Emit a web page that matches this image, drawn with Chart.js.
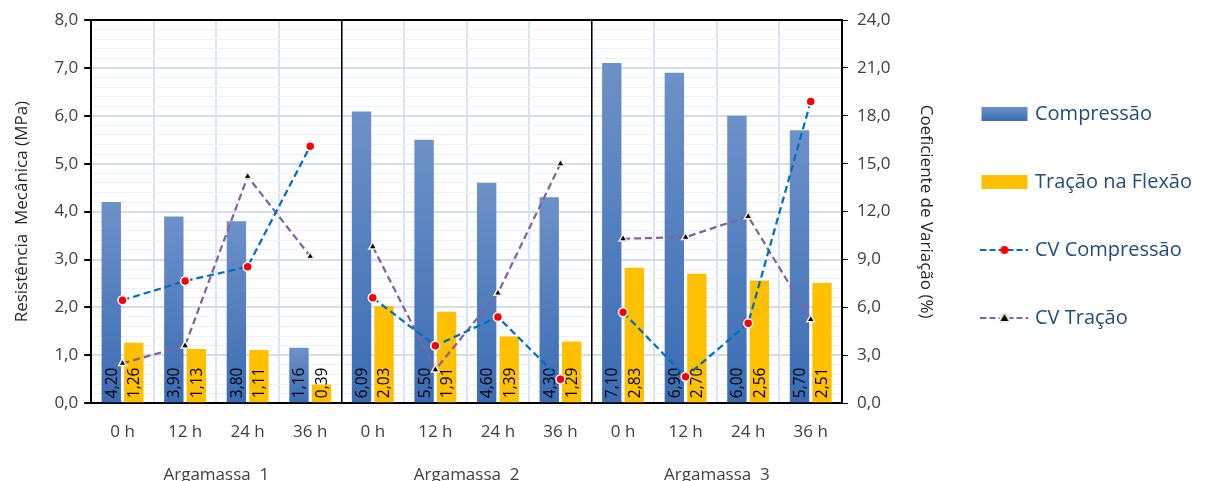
<!DOCTYPE html>
<html>
<head>
<meta charset="utf-8">
<script src="https://cdn.jsdelivr.net/npm/chart.js@4.4.1/dist/chart.umd.min.js"></script>
<style>
  html, body { margin: 0; padding: 0; overflow: hidden; background: #fff; }
  #wrap { width: 1209px; height: 492px; }
</style>
</head>
<body>
<div id="wrap"><canvas id="grafico"></canvas></div>
<script>
const horas = ['0 h', '12 h', '24 h', '36 h', '0 h', '12 h', '24 h', '36 h', '0 h', '12 h', '24 h', '36 h'];
const argamassas = ['Argamassa  1', 'Argamassa  2', 'Argamassa  3'];
const compressao = [4.20, 3.90, 3.80, 1.16, 6.09, 5.50, 4.60, 4.30, 7.10, 6.90, 6.00, 5.70];
const tracao = [1.26, 1.13, 1.11, 0.39, 2.03, 1.91, 1.39, 1.29, 2.83, 2.70, 2.56, 2.51];
const cvCompressao = [6.45, 7.65, 8.55, 16.1, 6.6, 3.6, 5.4, 1.5, 5.7, 1.65, 5.0, 18.9];
const cvTracao = [2.5, 3.6, 14.2, 9.2, 9.8, 2.1, 6.9, 15.0, 10.3, 10.4, 11.7, 5.25];

const AZUL_CV = '#0070C0';
const ROXO_CV = '#8064A2';
const AMARELO = '#FFC000';
const FONTE = "'Open Sans', Carlito, Lato, sans-serif";

Chart.defaults.font.family = FONTE;
Chart.defaults.color = '#404040';

const virgula = (v, casas) => v.toFixed(casas).replace('.', ',');
const isMajor = v => Math.abs(v - Math.round(v)) < 1e-6;

// gradient per bar, light on top, darker at the base
function gradienteAzul(c) {
  const y = c.chart.scales.y;
  if (c.type !== 'data' || !y || !c.chart.chartArea) return '#4F81BD';
  const top = y.getPixelForValue(c.raw);
  const bot = y.getPixelForValue(0);
  const g = c.chart.ctx.createLinearGradient(0, top, 0, bot);
  g.addColorStop(0, '#6d91c9');
  g.addColorStop(1, '#3a6cb4');
  return g;
}

function legendaImg(desenha) {
  const c = document.createElement('canvas');
  c.width = 48; c.height = 16;
  desenha(c.getContext('2d'));
  return c;
}

const imgCompressao = legendaImg(g => {
  const gr = g.createLinearGradient(0, 1, 0, 15);
  gr.addColorStop(0, '#6d91c9'); gr.addColorStop(1, '#3a6cb4');
  g.fillStyle = gr; g.fillRect(1, 1, 46, 14);
});
const imgTracao = legendaImg(g => { g.fillStyle = AMARELO; g.fillRect(1, 1, 46, 14); });
const imgCvComp = legendaImg(g => {
  g.strokeStyle = AZUL_CV; g.lineWidth = 2; g.setLineDash([6, 3]);
  g.beginPath(); g.moveTo(0, 8); g.lineTo(48, 8); g.stroke();
  g.fillStyle = '#ff0000'; g.beginPath(); g.arc(24, 8, 4, 0, Math.PI * 2); g.fill();
});
const imgCvTrac = legendaImg(g => {
  g.strokeStyle = ROXO_CV; g.lineWidth = 2; g.setLineDash([6, 3]);
  g.beginPath(); g.moveTo(0, 8); g.lineTo(48, 8); g.stroke();
  g.fillStyle = '#f3efe3'; g.fillRect(19, 3, 10, 10);
  g.fillStyle = '#000'; g.beginPath(); g.moveTo(24, 4); g.lineTo(28, 11); g.lineTo(20, 11); g.closePath(); g.fill();
});

// value labels written vertically inside the bars, from the base up
const rotulosBarras = {
  id: 'rotulosBarras',
  afterDatasetDraw(chart, args) {
    if (args.meta.type !== 'bar') return;
    const ds = chart.data.datasets[args.index];
    const c = chart.ctx;
    c.save();
    c.font = '15.5px ' + FONTE;
    c.fillStyle = '#000';
    c.textAlign = 'left';
    c.textBaseline = 'middle';
    args.meta.data.forEach((bar, i) => {
      c.save();
      c.translate(bar.x + 1, bar.base - 4);
      c.rotate(-Math.PI / 2);
      c.fillText(virgula(ds.data[i], 2), 0, 0);
      c.restore();
    });
    c.restore();
  }
};

const molduraTopo = {
  id: 'molduraTopo',
  beforeDatasetsDraw(chart) {
    const { ctx, chartArea } = chart;
    ctx.save();
    ctx.strokeStyle = '#000';
    ctx.lineWidth = 2;
    ctx.beginPath();
    ctx.moveTo(chartArea.left - 4, chartArea.top);
    ctx.lineTo(chartArea.right, chartArea.top);
    ctx.stroke();
    ctx.restore();
  }
};

const semLigacao = cor => s => (s.p0DataIndex % 4 === 3 ? 'rgba(0,0,0,0)' : cor);

new Chart(document.getElementById('grafico'), {
  type: 'bar',
  data: {
    labels: horas,
    datasets: [
      {
        type: 'line', label: 'CV Compressão', data: cvCompressao, yAxisID: 'y1', order: 0,
        borderColor: AZUL_CV, borderWidth: 2.25, borderDash: [7, 4],
        segment: { borderColor: semLigacao(AZUL_CV) },
        pointRadius: 4.5, pointBackgroundColor: '#ff0000', pointBorderColor: '#fff', pointBorderWidth: 1.5
      },
      {
        type: 'line', label: 'CV Tração', data: cvTracao, yAxisID: 'y1', order: 0,
        borderColor: ROXO_CV, borderWidth: 2.25, borderDash: [7, 4],
        segment: { borderColor: semLigacao(ROXO_CV) },
        pointStyle: 'triangle', pointRadius: 4.5, pointBackgroundColor: '#000', pointBorderColor: '#f3efe3', pointBorderWidth: 1.5
      },
      {
        label: 'Compressão', data: compressao, yAxisID: 'y', order: 1,
        backgroundColor: gradienteAzul, barPercentage: 0.86, categoryPercentage: 0.72
      },
      {
        label: 'Tração na Flexão', data: tracao, yAxisID: 'y', order: 1,
        backgroundColor: AMARELO, barPercentage: 0.86, categoryPercentage: 0.72
      }
    ]
  },
  options: {
    responsive: true,
    maintainAspectRatio: false,
    animation: false,
    layout: { padding: { top: 20, bottom: 4, left: 0, right: 7 } },
    plugins: {
      tooltip: { enabled: false },
      legend: {
        position: 'right',
        align: 'start',
        maxWidth: 274,
        title: { display: true, text: ' ', font: { size: 10 }, padding: { top: 24, bottom: 0 } },
        labels: {
          usePointStyle: true,
          pointStyleWidth: 41,
          padding: 48,
          color: '#1F4E79',
          font: { size: 20 },
          generateLabels: () => [
            { text: 'Compressão', pointStyle: imgCompressao, datasetIndex: 2, fontColor: '#1F4E79' },
            { text: 'Tração na Flexão', pointStyle: imgTracao, datasetIndex: 3, fontColor: '#1F4E79' },
            { text: 'CV Compressão', pointStyle: imgCvComp, datasetIndex: 0, fontColor: '#1F4E79' },
            { text: 'CV Tração', pointStyle: imgCvTrac, datasetIndex: 1, fontColor: '#1F4E79' }
          ]
        }
      }
    },
    scales: {
      x: {
        type: 'category',
        offset: true,
        grid: { offset: true, color: '#d9e5f4', lineWidth: 2, drawTicks: false },
        border: { color: '#000', width: 2 },
        ticks: { font: { size: 17 }, padding: 19, autoSkip: false, maxRotation: 0 }
      },
      x2: {
        type: 'category',
        labels: argamassas,
        position: 'bottom',
        offset: true,
        grid: { offset: true, color: '#000', lineWidth: 1.5, drawTicks: false, z: 0 },
        border: { display: false },
        ticks: { font: { size: 17 }, padding: 3, maxRotation: 0 }
      },
      y: {
        position: 'left',
        min: 0, max: 8,
        grid: {
          color: c => (isMajor(c.tick.value) ? '#d3dff0' : '#edf2f9'),
          lineWidth: c => (isMajor(c.tick.value) ? 2 : 1),
          tickColor: c => (isMajor(c.tick.value) ? '#000' : 'rgba(0,0,0,0)'),
          tickLength: 7
        },
        border: { color: '#000', width: 2 },
        ticks: {
          stepSize: 0.2, autoSkip: false, font: { size: 17 }, padding: 6,
          callback: v => (isMajor(v) ? virgula(v, 1) : '')
        },
        title: {
          display: true, text: 'Resistência  Mecânica (MPa)', color: '#262626',
          font: { size: 17 }, padding: { top: 12, bottom: 16 }
        }
      },
      y1: {
        position: 'right',
        min: 0, max: 24,
        grid: { drawOnChartArea: false, tickColor: '#000', tickLength: 6 },
        border: { color: '#000', width: 2 },
        ticks: { stepSize: 3, font: { size: 17 }, padding: 9, callback: v => virgula(v, 1) },
        title: {
          display: true, text: 'Coeficiente de Variação (%)', color: '#262626',
          font: { size: 17 }, padding: { top: 0, bottom: 16 }
        }
      }
    }
  },
  plugins: [rotulosBarras, molduraTopo]
});
</script>
</body>
</html>
